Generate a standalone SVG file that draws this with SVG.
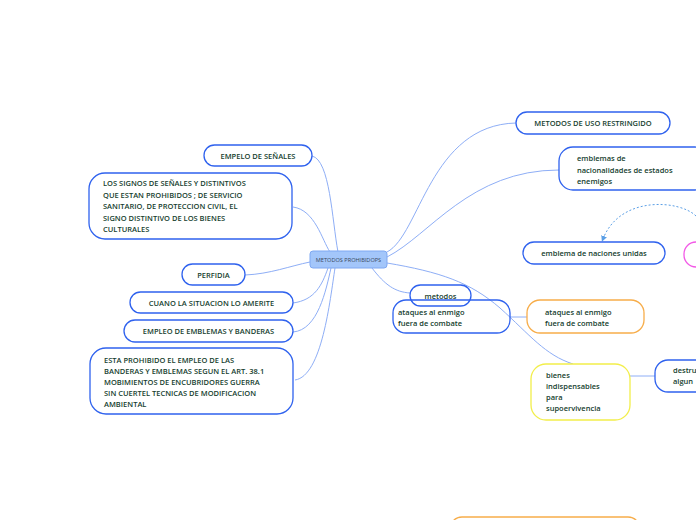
<svg xmlns="http://www.w3.org/2000/svg" width="696" height="520" viewBox="0 0 696 520">
<defs>
<style>
.n{fill:#fff;stroke:#2f62ee;stroke-width:1.3}
.nn{fill:none;stroke:#2f62ee;stroke-width:1.3}
.o{fill:#fff;stroke:#f7ad4a;stroke-width:1.3}
.y{fill:#fff;stroke:#f2ee4a;stroke-width:1.3}
.p{fill:#fff;stroke:#f25ae6;stroke-width:1.3}
.t{font-family:"Open Sans","Noto Sans",sans-serif;font-size:7.5px;font-weight:600;fill:#15402e}
.c{fill:none;stroke:#8eaef6;stroke-width:1}
.d{fill:none;stroke:#5b9fe6;stroke-width:1;stroke-dasharray:2,2}
</style>
<marker id="ah" markerWidth="6" markerHeight="6" refX="3" refY="3" orient="auto" markerUnits="userSpaceOnUse">
<path d="M0,0 L6,3 L0,6 Z" fill="#5b9fe6"/>
</marker>
</defs>
<rect width="696" height="520" fill="#fff"/>
<g id="connectors">
<path class="c" d="M312,156 C330,160 332,220 338,252"/>
<path class="c" d="M293,207 C315,210 322,240 330,252"/>
<path class="c" d="M245,275 C270,274 290,266 310,262"/>
<path class="c" d="M293,303 C315,300 322,285 328,268"/>
<path class="c" d="M293,332 C318,330 326,290 331,268"/>
<path class="c" d="M295,380 C322,376 330,300 335,268"/>
<path class="c" d="M387,252 C420,235 430,125 516,123"/>
<path class="c" d="M387,257 C430,235 470,170 559,170"/>
<path class="c" d="M372,268 C385,285 395,292 410,293"/>
<path class="c" d="M387,263 C440,272 470,282 500,308 C530,335 545,355 573,364"/>
<path class="c" d="M510,317 L527,317"/>
<path class="c" d="M630,376 L655,376"/>
<path class="d" d="M696,216 C680,200 620,195 603,239" marker-end="url(#ah)"/>
</g>
<g id="central">
<rect x="310" y="251" width="77" height="17" rx="3" fill="#a3c6fa" stroke="#7ea8f2" stroke-width="1"/>
<text x="348.5" y="262" text-anchor="middle" font-family="'Open Sans',sans-serif" font-size="5.6" fill="#3a4a5a">METODOS PROHIBIDOPS</text>
</g>
<g id="empelo">
<rect class="n" x="204" y="145" width="108" height="21" rx="10.5"/>
<text class="t" x="258" y="158.5" text-anchor="middle">EMPELO DE SEÑALES</text>
</g>
<g id="signos">
<rect class="n" x="89" y="173" width="203" height="66" rx="16"/>
<text class="t" x="103" y="186">LOS SIGNOS DE SEÑALES Y DISTINTIVOS</text>
<text class="t" x="103" y="197.5">QUE ESTAN PROHIBIDOS ; DE SERVICIO</text>
<text class="t" x="103" y="209">SANITARIO, DE PROTECCION CIVIL, EL</text>
<text class="t" x="103" y="220.5">SIGNO DISTINTIVO DE LOS BIENES</text>
<text class="t" x="103" y="232">CULTURALES</text>
</g>
<g id="perfidia">
<rect class="n" x="182" y="264" width="63" height="21" rx="10.5"/>
<text class="t" x="213.5" y="277.5" text-anchor="middle">PERFIDIA</text>
</g>
<g id="cuano">
<rect class="n" x="130" y="292" width="163" height="21" rx="10.5"/>
<text class="t" x="211.5" y="305.5" text-anchor="middle">CUANO LA SITUACION LO AMERITE</text>
</g>
<g id="empleo">
<rect class="n" x="124" y="320" width="169" height="22" rx="11"/>
<text class="t" x="208.5" y="334" text-anchor="middle">EMPLEO DE EMBLEMAS Y BANDERAS</text>
</g>
<g id="esta">
<rect class="n" x="90" y="348" width="203" height="66" rx="16"/>
<text class="t" x="104" y="363">ESTA PROHIBIDO EL EMPLEO DE LAS</text>
<text class="t" x="104" y="374">BANDERAS Y EMBLEMAS SEGUN EL ART. 38.1</text>
<text class="t" x="104" y="385">MOBIMIENTOS DE ENCUBRIDORES GUERRA</text>
<text class="t" x="104" y="396">SIN CUERTEL TECNICAS DE MODIFICACION</text>
<text class="t" x="104" y="407">AMBIENTAL</text>
</g>
<g id="restringido">
<rect class="n" x="516" y="112" width="154" height="22" rx="11"/>
<text class="t" x="593" y="126" text-anchor="middle">METODOS DE USO RESTRINGIDO</text>
</g>
<g id="emblemas">
<rect class="n" x="559" y="147" width="150" height="43" rx="14"/>
<text class="t" x="577" y="161">emblemas de</text>
<text class="t" x="577" y="172.5">nacionalidades de estados</text>
<text class="t" x="577" y="184">enemigos</text>
</g>
<g id="naciones">
<rect class="n" x="523" y="242" width="142" height="22" rx="11"/>
<text class="t" x="594" y="256" text-anchor="middle">emblema de naciones unidas</text>
</g>
<g id="pink">
<rect class="p" x="684" y="242" width="40" height="25" rx="12"/>
</g>
<g id="ataques">
<rect class="nn" x="393" y="300" width="117" height="33" rx="13"/>
<text class="t" x="398" y="315">ataques al enmigo</text>
<text class="t" x="398" y="326">fuera de combate</text>
</g>
<g id="metodos">
<rect class="nn" x="410" y="285" width="61" height="21" rx="10.5"/>
<text class="t" x="440.5" y="299" text-anchor="middle">metodos</text>
</g>
<g id="ataques2">
<rect class="o" x="527" y="300" width="117" height="33" rx="13"/>
<text class="t" x="545" y="315">ataques al enmigo</text>
<text class="t" x="545" y="326">fuera de combate</text>
</g>
<g id="bienes">
<rect class="y" x="531" y="364" width="99" height="56" rx="15"/>
<text class="t" x="546" y="378">bienes</text>
<text class="t" x="546" y="389">indispensables</text>
<text class="t" x="546" y="400">para</text>
<text class="t" x="546" y="411">supoervivencia</text>
</g>
<g id="destru">
<rect class="n" x="655" y="360" width="70" height="32" rx="13"/>
<text class="t" x="673" y="373">destru</text>
<text class="t" x="673" y="384">algun</text>
</g>
<g id="bottom">
<rect class="o" x="450" y="517" width="190" height="30" rx="12"/>
</g>
</svg>
